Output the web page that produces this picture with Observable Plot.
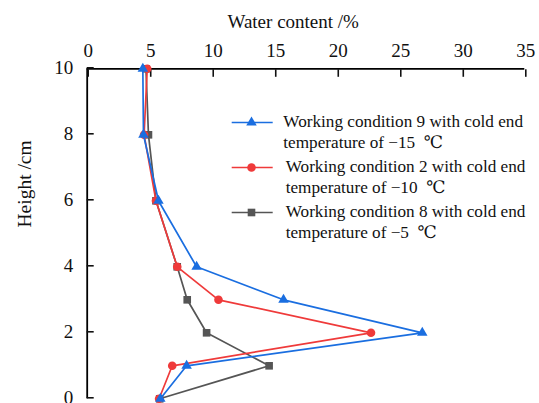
<!DOCTYPE html>
<html>
<head>
<meta charset="utf-8">
<script src="https://cdn.jsdelivr.net/npm/d3@7"></script>
<script src="https://cdn.jsdelivr.net/npm/@observablehq/plot@0.6"></script>
<style>
  html, body { margin: 0; padding: 0; background: white; }
  #wrap { position: relative; width: 539px; height: 403px; overflow: hidden; font-family: "Liberation Serif", "DejaVu Serif", serif; }
  #wrap svg text { font-family: "Liberation Serif", "DejaVu Serif", serif; }
  .leg { position: absolute; left: 228px; font-size: 17.2px; line-height: 20.5px; color: #111; }
  .leg svg { position: absolute; left: 0; top: 0; }
  .leg .txt { position: absolute; top: 0; white-space: nowrap; }
</style>
</head>
<body>
<div id="wrap"></div>
<script>
const heights = [10, 8, 6, 4, 3, 2, 1, 0];
const cond9 = [4.45, 4.5, 5.7, 8.75, 15.7, 26.8, 7.95, 5.85];
const cond2 = [4.8, 4.55, 5.5, 7.2, 10.5, 22.7, 6.8, 5.75];
const cond8 = [4.7, 4.9, 5.5, 7.2, 8.0, 9.55, 14.55, 5.8];
const xTicks = [0, 5, 10, 15, 20, 25, 30, 35];
const yTicks = [0, 2, 4, 6, 8, 10];
const seriesNames = [
  "Working condition 9 with cold end|temperature of \u221215\u00a0\u00a0\u2103",
  "Working condition 2 with cold end|temperature of \u221210\u00a0\u00a0\u2103",
  "Working condition 8 with cold end|temperature of \u22125\u00a0\u00a0\u2103"
];
const colors = ["#1a6ee0", "#ef3a3a", "#555555"];
const symbols = ["triangle", "circle", "square"];
const radii = [3.9, 4.3, 4.3];

const seriesValues = [cond9, cond2, cond8];
const rows = [];
seriesValues.forEach((vals, s) => vals.forEach((v, i) => rows.push({s, x: v, y: heights[i]})));

const marks = [
  Plot.ruleY([10], {stroke: "black", strokeWidth: 1.8}),
  Plot.ruleX([0], {stroke: "black", strokeWidth: 1.8}),
  Plot.axisX(xTicks, {anchor: "top", tickSize: -7.5, tickPadding: 19, fontSize: 19, label: null, strokeWidth: 1.6, dx: 1}),
  Plot.axisY(yTicks, {anchor: "left", tickSize: -7, tickPadding: 21, fontSize: 19, label: null, strokeWidth: 1.6, dy: -1}),
  Plot.text(["Water content /%"], {frameAnchor: "top", dx: -12.8, dy: -47.3, lineAnchor: "middle", fontSize: 19, text: d => d}),
  Plot.text(["Height /cm"], {frameAnchor: "left", dx: -62.7, dy: -6.3, rotate: -90, fontSize: 19.5, text: d => d})
];
// draw gray first, then red, then blue on top
[2, 1, 0].forEach(s => {
  const data = rows.filter(r => r.s === s);
  marks.push(Plot.line(data, {x: "x", y: "y", stroke: colors[s], strokeWidth: 1.7}));
  marks.push(Plot.dot(data, {x: "x", y: "y", fill: colors[s], stroke: "none", symbol: symbols[s], r: radii[s]}));
});

const chart = Plot.plot({
  width: 539, height: 403,
  marginLeft: 86.7, marginTop: 68.3, marginRight: 14.7, marginBottom: 4.7,
  x: {domain: [0, 35]},
  y: {domain: [0, 10]},
  style: {fontFamily: "'Liberation Serif', 'DejaVu Serif', serif", background: "white", color: "#111", overflow: "visible"},
  marks
});
const wrap = document.getElementById("wrap");
wrap.appendChild(chart);

const legTops = [112.2, 157.2, 202.2];
const legTextLeft = [55.3, 57.7, 57.7];
seriesNames.forEach((name, s) => {
  const div = document.createElement("div");
  div.className = "leg";
  div.style.top = legTops[s] + "px";
  const sym = d3.symbol(s === 0 ? d3.symbolTriangle : s === 1 ? d3.symbolCircle : d3.symbolSquare, Math.PI * radii[s] * radii[s])();
  div.innerHTML = `<svg width="52" height="21"><line x1="3.7" x2="44.7" y1="10.5" y2="10.5" stroke="${colors[s]}" stroke-width="1.7"/><path d="${sym}" transform="translate(23.5,10.5)" fill="${colors[s]}"/></svg>` +
    `<div class="txt" style="left:${legTextLeft[s]}px">${name.split("|").join("<br>")}</div>`;
  wrap.appendChild(div);
});
</script>
</body>
</html>
